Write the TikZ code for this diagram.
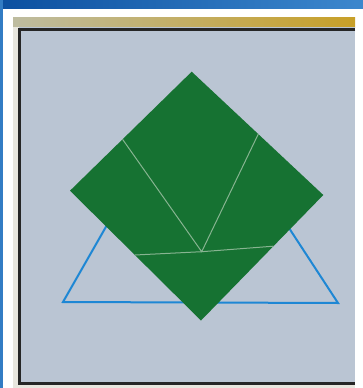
\documentclass[tikz,border=0pt]{standalone}
\begin{document}
\begin{tikzpicture}[x=1pt,y=-1pt]
\definecolor{bgpanel}{RGB}{186,197,211}
\definecolor{leafgreen}{RGB}{22,114,50}
\definecolor{seam}{RGB}{135,180,145}
\definecolor{triblue}{RGB}{30,135,212}
\definecolor{darkband}{RGB}{12,80,160}
\definecolor{lightband}{RGB}{60,135,205}
\definecolor{goldL}{RGB}{190,188,160}
\definecolor{goldR}{RGB}{200,160,40}
\definecolor{beige}{RGB}{232,230,222}
\tikzset{
  framebar/.style={draw=black!85, line width=3pt},
  seamline/.style={draw=seam, line width=1pt, line cap=round},
  tri/.style={draw=triblue, line width=2pt, line join=miter}
}
\useasboundingbox (0,0) rectangle (363,388);
\fill[white] (0,0) rectangle (363,388);
% top blue band and left strip
\shade[left color=darkband, right color=lightband] (0,0) rectangle (363,8);
\fill[lightband!80!darkband] (0,0) rectangle (3,388);
% gold band and beige margins
\shade[left color=goldL, right color=goldR] (13,17) rectangle (355,27);
\fill[beige] (13,27) rectangle (19,388);
\fill[beige] (13,385) rectangle (355,388);
% panel
\fill[bgpanel] (19,27) rectangle (355,385);
\draw[framebar] (355,29.5) -- (19.5,29.5) -- (19.5,383.5) -- (355,383.5);
% triangle
\coordinate (ta) at (191,78);
\coordinate (tl) at (63,302);
\coordinate (tr) at (338,303);
\draw[tri] (ta) -- (tl) -- (tr) -- cycle;
% square
\coordinate (st) at (191.7,71.7);
\coordinate (sl) at (70,190.7);
\coordinate (sr) at (323.3,195);
\coordinate (sb) at (201,320.5);
\fill[leafgreen] (st) -- (sl) -- (sb) -- (sr) -- cycle;
% seams
\coordinate (c) at (201.7,251.7);
\coordinate (ul) at (122.7,139.5);
\coordinate (ur) at (258.3,134);
\coordinate (ll) at (135,255);
\coordinate (lr) at (273.3,246.2);
\draw[seamline] (ul) -- (c) -- (ur);
\draw[seamline] (ll) -- (c) -- (lr);
\end{tikzpicture}
\end{document}
